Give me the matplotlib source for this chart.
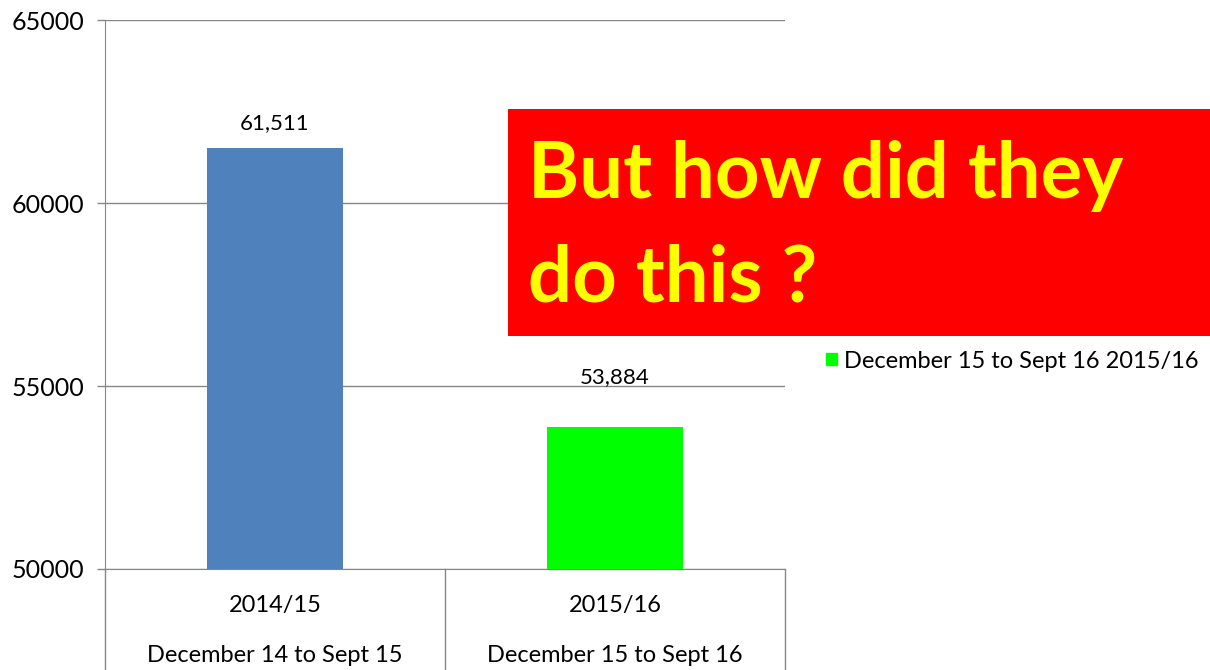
import matplotlib
matplotlib.use("Agg")
import matplotlib.pyplot as plt
from matplotlib.patches import Rectangle
from matplotlib.lines import Line2D

plt.rcParams['font.family'] = ['Lato', 'DejaVu Sans']

periods = ["2014/15", "2015/16"]
ranges = ["December 14 to Sept 15", "December 15 to Sept 16"]
values = [61511, 53884]
value_labels = ["61,511", "53,884"]
colors = ["#4F81BD", "#00FF00"]
legend_label = "December 15 to Sept 16 2015/16"
yticks = [50000, 55000, 60000, 65000]

W, H = 1210, 670
fig = plt.figure(figsize=(W / 100, H / 100), dpi=100)
ax = fig.add_axes([105 / W, (H - 569) / H, 680 / W, 549 / H])

x = list(range(len(values)))
bars = ax.bar(x, values, width=0.4, color=colors, zorder=3)
ax.set_xlim(-0.5, len(values) - 0.5)
ax.set_ylim(50000, 65000)
ax.set_yticks(yticks)
ax.set_yticklabels([str(t) for t in yticks], fontsize=18)
ax.tick_params(axis='y', length=6, width=1, color='#868686', pad=9)
ax.set_xticks([])
ax.grid(axis='y', color='#868686', linewidth=1, zorder=0)
for s in ['top', 'right']:
    ax.spines[s].set_visible(False)
ax.spines['left'].set_color('#868686')
ax.spines['bottom'].set_color('#868686')

# value labels
offsets = [18, 36]
for xi, v, lab, off in zip(x, values, value_labels, offsets):
    ax.annotate(lab, (xi, v), xytext=(0, off), textcoords='offset points',
                ha='center', va='center', fontsize=16)

# two-level category axis
trans = ax.get_xaxis_transform()
for xi, p, r in zip(x, periods, ranges):
    ax.text(xi, -0.0656, p, transform=trans, ha='center', va='center', fontsize=17)
    ax.text(xi, -0.1567, r, transform=trans, ha='center', va='center', fontsize=17)
for sep in [-0.5, 0.5, 1.5]:
    ax.add_line(Line2D([sep, sep], [0, -0.2], transform=trans, color='#868686',
                       linewidth=1, clip_on=False))

# legend
handle = Rectangle((0, 0), 1, 1, color=colors[1])
fig.legend([handle], [legend_label], loc='center left',
           bbox_to_anchor=(826 / W, (H - 361) / H), frameon=False, fontsize=17,
           handlelength=0.45, handleheight=0.45, handletextpad=0.3, borderaxespad=0,
           borderpad=0)

# red annotation box
fig.patches.append(Rectangle((508 / W, (H - 336) / H), (W - 508) / W, 227 / H,
                             transform=fig.transFigure, facecolor='#FF0000',
                             edgecolor='none', zorder=10))
fig.text(528 / W, (H - 198) / H, "But how did they", color='#FFFF00', fontsize=56,
         fontweight='bold', ha='left', va='baseline', zorder=11)
fig.text(528 / W, (H - 301) / H, "do this ?", color='#FFFF00', fontsize=56,
         fontweight='bold', ha='left', va='baseline', zorder=11)

fig.savefig("out.png", dpi=100)
